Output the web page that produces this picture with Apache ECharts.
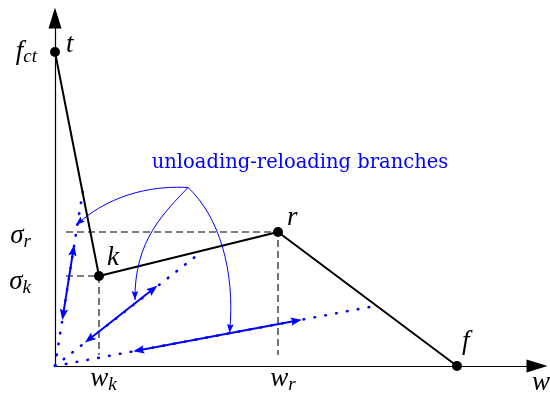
<!DOCTYPE html>
<html>
<head>
<meta charset="utf-8">
<script src="https://cdn.jsdelivr.net/npm/echarts@6/dist/echarts.min.js"></script>
<style>
  html, body { margin: 0; padding: 0; background: #fff; }
  #chart { width: 550px; height: 394px; }
</style>
</head>
<body>
<div id="chart"></div>
<script>
// Characteristic points of the softening envelope: crack opening w and stress
const pointNames = ['t', 'k', 'r', 'f'];
const crackOpening = [0, 44, 223, 402];
const stress = [314, 90, 134, 0];

// Axis extents
const wMax = 482;
const sigmaMax = 348;

// Ends of the unloading lines that run from the origin to the envelope
const unloadingEnds = [[27.7, 174.3], [146.7, 114.3], [321.7, 60.3]];

// Unloading-reloading branches (double arrows), tip to tip
const branchArrows = [
  [[7.3, 46], [19.1, 121]],
  [[30, 23.5], [102.3, 80.2]],
  [[78.3, 14.7], [246.7, 46.3]]
];

// Leaders from the annotation: common start, two bezier controls, tip
const leaderStart = [133, 178.5];
const leaderCurves = [
  [[105, 180], [60, 176], [21, 141]],
  [[110, 154], [79, 126], [80, 66]],
  [[163, 151], [181, 96], [174.5, 33]]
];

const annotationText = 'unloading-reloading branches';

const BLUE = '#0000ff';
const mathFont = '"Liberation Serif", "Times New Roman", serif';
const textFont = '"DejaVu Serif", serif';

const envelope = crackOpening.map((w, i) => [w, stress[i]]);
const pt = name => envelope[pointNames.indexOf(name)];

// dashed guides from the axes to k and r
const guideInset = 11;
const guides = ['k', 'r'].map(n => {
  const p = pt(n);
  return [[guideInset, p[1]], [p[0], p[1]], [p[0], guideInset]];
});

function arrowHead(tip, from, len, halfW, notch) {
  const dx = tip[0] - from[0], dy = tip[1] - from[1];
  const d = Math.hypot(dx, dy) || 1;
  const ux = dx / d, uy = dy / d, nx = -uy, ny = ux;
  const bx = tip[0] - ux * len, by = tip[1] - uy * len;
  return [
    [tip[0], tip[1]],
    [bx + nx * halfW, by + ny * halfW],
    [tip[0] - ux * (len - notch), tip[1] - uy * (len - notch)],
    [bx - nx * halfW, by - ny * halfW]
  ];
}

const series = [];

guides.forEach(g => series.push({
  type: 'line', data: g, symbol: 'none', z: 1, silent: true,
  lineStyle: { color: '#000', width: 1.1, type: [7, 4] }
}));

unloadingEnds.forEach(e => series.push({
  type: 'line', data: [[0, 0], e], symbol: 'none', z: 2, silent: true,
  lineStyle: { color: BLUE, width: 2.6, type: [0.6, 10.4], cap: 'round' }
}));

series.push({
  type: 'line', data: envelope, z: 3, silent: true,
  symbol: 'circle', symbolSize: 10,
  itemStyle: { color: '#000' },
  lineStyle: { color: '#000', width: 2 }
});

// double arrows
series.push({
  type: 'custom', coordinateSystem: 'cartesian2d', z: 4, silent: true,
  data: branchArrows.map(([a, b]) => [a[0], a[1], b[0], b[1]]),
  renderItem(params, api) {
    const p1 = api.coord([api.value(0), api.value(1)]);
    const p2 = api.coord([api.value(2), api.value(3)]);
    const len = 11, halfW = 4.2, notch = 2;
    const d = Math.hypot(p2[0] - p1[0], p2[1] - p1[1]);
    const ux = (p2[0] - p1[0]) / d, uy = (p2[1] - p1[1]) / d;
    const s = len - notch - 0.5;
    return {
      type: 'group',
      children: [
        { type: 'line', shape: { x1: p1[0] + ux * s, y1: p1[1] + uy * s, x2: p2[0] - ux * s, y2: p2[1] - uy * s },
          style: { stroke: BLUE, lineWidth: 2 } },
        { type: 'polygon', shape: { points: arrowHead(p1, p2, len, halfW, notch) }, style: { fill: BLUE } },
        { type: 'polygon', shape: { points: arrowHead(p2, p1, len, halfW, notch) }, style: { fill: BLUE } }
      ]
    };
  }
});

// curved leaders from the annotation
series.push({
  type: 'custom', coordinateSystem: 'cartesian2d', z: 5, silent: true,
  data: leaderCurves.map(([c1, c2, tip]) => [leaderStart[0], leaderStart[1], c1[0], c1[1], c2[0], c2[1], tip[0], tip[1]]),
  renderItem(params, api) {
    const s = api.coord([api.value(0), api.value(1)]);
    const c1 = api.coord([api.value(2), api.value(3)]);
    const c2 = api.coord([api.value(4), api.value(5)]);
    const t = api.coord([api.value(6), api.value(7)]);
    return {
      type: 'group',
      children: [
        { type: 'bezierCurve',
          shape: { x1: s[0], y1: s[1], cpx1: c1[0], cpy1: c1[1], cpx2: c2[0], cpy2: c2[1], x2: t[0], y2: t[1] },
          style: { stroke: BLUE, lineWidth: 1, fill: null } },
        { type: 'polygon', shape: { points: arrowHead(t, c2, 9, 3.3, 1.5) }, style: { fill: BLUE } }
      ]
    };
  }
});

const axisCommon = {
  type: 'value', min: 0,
  axisTick: { show: false }, axisLabel: { show: false }, splitLine: { show: false },
  axisLine: { show: true, onZero: true, symbol: ['none', 'triangle'], symbolSize: [13, 21],
    lineStyle: { color: '#000', width: 1.2 } }
};

const option = {
  animation: false,
  backgroundColor: '#fff',
  grid: { left: 55, top: 18, right: 13, bottom: 28, containLabel: false, outerBoundsMode: 'none' },
  xAxis: Object.assign({}, axisCommon, { max: wMax }),
  yAxis: Object.assign({}, axisCommon, { max: sigmaMax }),
  series
};

const chart = echarts.init(document.getElementById('chart'));
chart.setOption(option);

const toPx = p => chart.convertToPixel({ gridIndex: 0 }, p);

function mathLabel(text, pos, dx, dy, align, subPad) {
  return {
    type: 'text', x: pos[0] + dx, y: pos[1] + dy, z: 20, silent: true,
    style: {
      text, fill: '#000', align, verticalAlign: 'middle',
      fontFamily: mathFont, fontStyle: 'italic', fontSize: 27,
      rich: {
        m: { fontFamily: mathFont, fontStyle: 'italic', fontSize: 27 },
        s: { fontFamily: mathFont, fontStyle: 'italic', fontSize: 19, padding: [subPad || 12, 0, 0, 0] }
      }
    }
  };
}

const pT = toPx(pt('t')), pK = toPx(pt('k')), pR = toPx(pt('r')), pF = toPx(pt('f'));
const axisY = toPx([0, 0])[1];
const axisX = toPx([0, 0])[0];
const xEnd = toPx([wMax, 0])[0];

const labels = [
  mathLabel('t', pT, 11, -7, 'left'),
  mathLabel('k', pK, 8, -18.5, 'left'),
  mathLabel('r', pR, 9, -14.5, 'left'),
  mathLabel('f', pF, 5, -24, 'left'),
  mathLabel('{m|f}{s|ct}', [axisX, pT[1]], -18, 0, 'right', 10),
  mathLabel('{m|σ}{s|r}', [axisX, pR[1]], -24, 3.5, 'right'),
  mathLabel('{m|σ}{s|k}', [axisX, pK[1]], -24, 5.5, 'right'),
  mathLabel('{m|w}{s|k}', [pK[0], axisY], 4.5, 12.5, 'center', 13),
  mathLabel('{m|w}{s|r}', [pR[0], axisY], 5, 12.5, 'center', 13),
  mathLabel('w', [xEnd, axisY], -5, 17, 'left')
];

const annPos = toPx([245, 203]);
labels.push({
  type: 'text', x: annPos[0], y: annPos[1], z: 20, silent: true,
  style: { text: annotationText, fill: BLUE, align: 'center', verticalAlign: 'middle',
    fontFamily: textFont, fontSize: 19.5 }
});

chart.setOption({ graphic: { elements: labels } });
</script>
</body>
</html>
